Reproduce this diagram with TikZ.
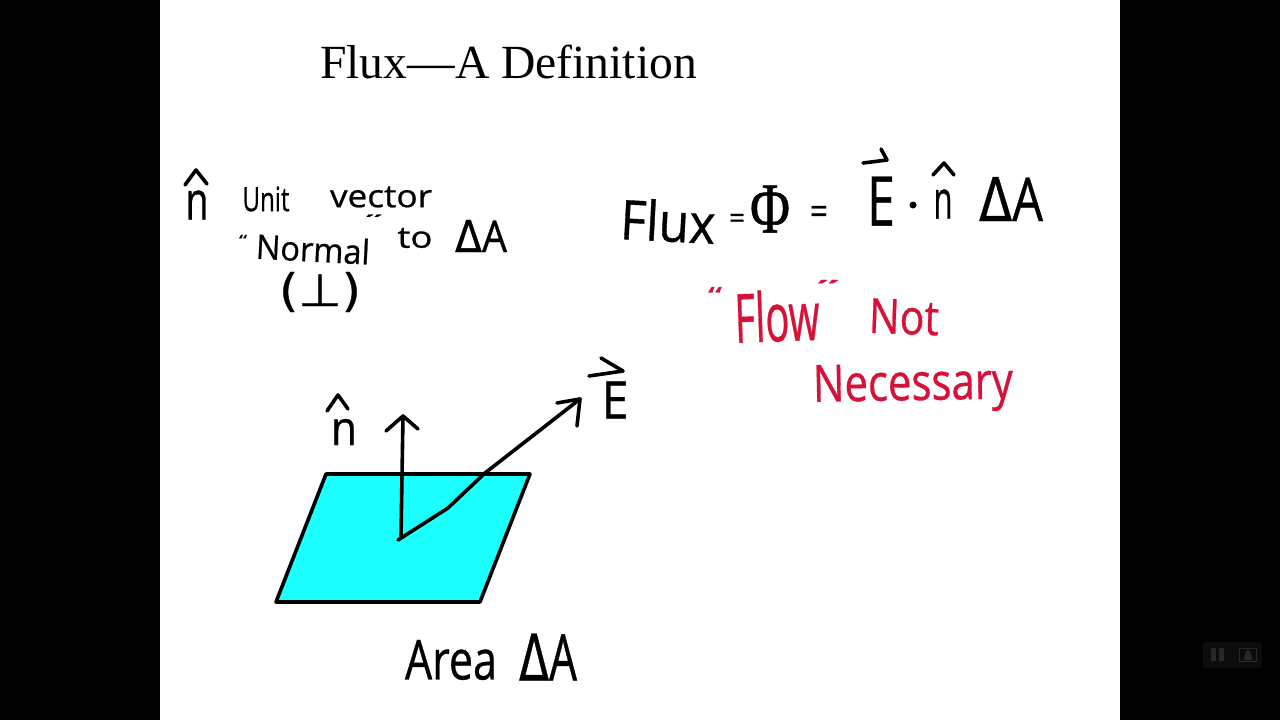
\documentclass[tikz,border=0pt]{standalone}
\usepackage{fontspec}
\usepackage{graphicx}
\setmainfont{Liberation Serif}
\newfontfamily\handfont[FakeBold=0.7]{Open Sans}
\newfontfamily\symfont[FakeBold=0.7]{DejaVu Sans}
\newfontfamily\phifont[FakeBold=0.7]{Liberation Serif}
\definecolor{aqua}{RGB}{28,255,255}
\definecolor{redink}{RGB}{214,18,58}
\definecolor{icon}{RGB}{40,40,40}
\definecolor{iconbg}{RGB}{12,12,12}
\tikzset{
  ink/.style={line width=3.6pt,line cap=round,line join=round,black},
  hand/.style={inner sep=0pt,outer sep=0pt,font=\handfont,black},
  redhand/.style={hand,text=redink},
}
% name, centre x, centre y, width, total height, angle, style, text
\newcommand{\hw}[8]{\node[#7,rotate=#6] (#1) at (#2,#3) {\resizebox*{#4pt}{#5pt}{#8}};}
\begin{document}
\begin{tikzpicture}[x=1pt,y=-1pt]
\useasboundingbox (0,0) rectangle (1280,720);
\fill[black] (0,0) rectangle (1280,720);
\fill[white] (160,0) rectangle (1120,720);
% title
\node[inner sep=0pt,font=\fontsize{47.6}{52}\selectfont,anchor=base west] (title) at (320,78) {Flux—A Definition};
% left note
\hw{nA}{197}{205}{23}{29}{0}{hand}{n}
\coordinate (hA1) at (185,185); \coordinate (hA2) at (196,170); \coordinate (hA3) at (207,184);
\draw[ink] (hA1) -- (hA2) -- (hA3);
\hw{unit}{266}{199}{47}{25}{0}{hand}{Unit}
\hw{vector}{381}{197}{102}{21}{0}{hand}{vector}
\hw{qa}{243}{240}{8}{10}{0}{hand}{“}
\hw{normal}{313}{249}{114}{26}{-3}{hand}{Normal}
\hw{qb}{374}{218}{16}{7}{0}{hand}{”}
\hw{to}{415}{238}{35}{20}{0}{hand}{to}
\hw{dA}{481}{236}{52}{32}{0}{hand}{{\symfont Δ}A}
\hw{perp}{320}{292}{82}{40}{0}{hand}{{\symfont(⊥)}}
% formula
\hw{flux}{668}{221}{95}{42}{-3}{hand}{Flux}
\hw{eqa}{737}{221}{16}{14}{0}{hand}{=}
\hw{phi}{770}{209}{40}{47}{0}{hand}{\phifont Φ}
\hw{eqb}{819}{215}{18}{18}{0}{hand}{=}
\hw{eE}{881}{201}{28}{49}{0}{hand}{E}
\coordinate (eA1) at (863,163); \coordinate (eA2) at (887,160); \coordinate (eA3) at (881,149);
\draw[ink] (eA1) -- (eA2) -- (eA3);
\node[circle,fill=black,inner sep=0pt,minimum size=7pt] (dot) at (913,205) {};
\hw{nB}{943}{204}{19}{29}{0}{hand}{n}
\coordinate (hB1) at (933,175); \coordinate (hB2) at (944,163); \coordinate (hB3) at (954,175);
\draw[ink] (hB1) -- (hB2) -- (hB3);
\hw{dB}{1011}{199}{64}{44}{0}{hand}{{\symfont Δ}A}
% red note
\hw{qc}{715}{295}{14}{16}{0}{redhand}{“}
\hw{flow}{777}{316}{85}{52}{2}{redhand}{Flow}
\hw{qd}{828}{285}{21}{10}{0}{redhand}{”}
\hw{nott}{904}{317}{70}{35}{-2}{redhand}{Not}
\hw{nec}{913}{388}{200}{49}{1}{redhand}{Necessary}
% parallelogram
\coordinate (p1) at (326,474); \coordinate (p2) at (530,474);
\coordinate (p3) at (480,602); \coordinate (p4) at (276,602);
\draw[ink,fill=aqua] (p1) -- (p2) -- (p3) -- (p4) -- cycle;
% normal arrow
\coordinate (o) at (398,540); \coordinate (nt) at (403,416);
\coordinate (nl) at (386,431); \coordinate (nr) at (418,429);
\coordinate (nb) at (401,536);
\draw[ink] (nb) -- (nt);
\draw[ink] (nl) -- (nt) -- (nr);
\hw{nC}{344}{432}{26}{26}{0}{hand}{n}
\coordinate (hC1) at (327,411); \coordinate (hC2) at (338,395); \coordinate (hC3) at (348,409);
\draw[ink] (hC1) -- (hC2) -- (hC3);
% E arrow
\coordinate (e1) at (448,508); \coordinate (e2) at (485,473); \coordinate (et) at (580,399);
\coordinate (el) at (557,403); \coordinate (er) at (577,426);
\draw[ink] (o) -- (e1) -- (e2) -- (et);
\draw[ink] (el) -- (et) -- (er);
\hw{eF}{615}{400}{27}{37}{0}{hand}{E}
\coordinate (fA1) at (589,376); \coordinate (fA2) at (623,371); \coordinate (fA3) at (601,358);
\draw[ink] (fA1) -- (fA2) -- (fA3);
% area label
\hw{area}{451}{660}{92}{40}{0}{hand}{Area}
\hw{dC}{548}{657}{58}{47}{0}{hand}{{\symfont Δ}A}
% player controls
\fill[iconbg,rounded corners=2pt] (1203,642) rectangle (1262,668);
\fill[icon] (1211,648) rectangle (1216,661);
\fill[icon] (1219,648) rectangle (1224,661);
\draw[icon,line width=1pt] (1239,648) rectangle (1256,661);
\fill[icon] (1244,660) -- (1245,654) -- (1247,650) -- (1249,650) -- (1251,654) -- (1252,660) -- cycle;
\end{tikzpicture}
\end{document}
